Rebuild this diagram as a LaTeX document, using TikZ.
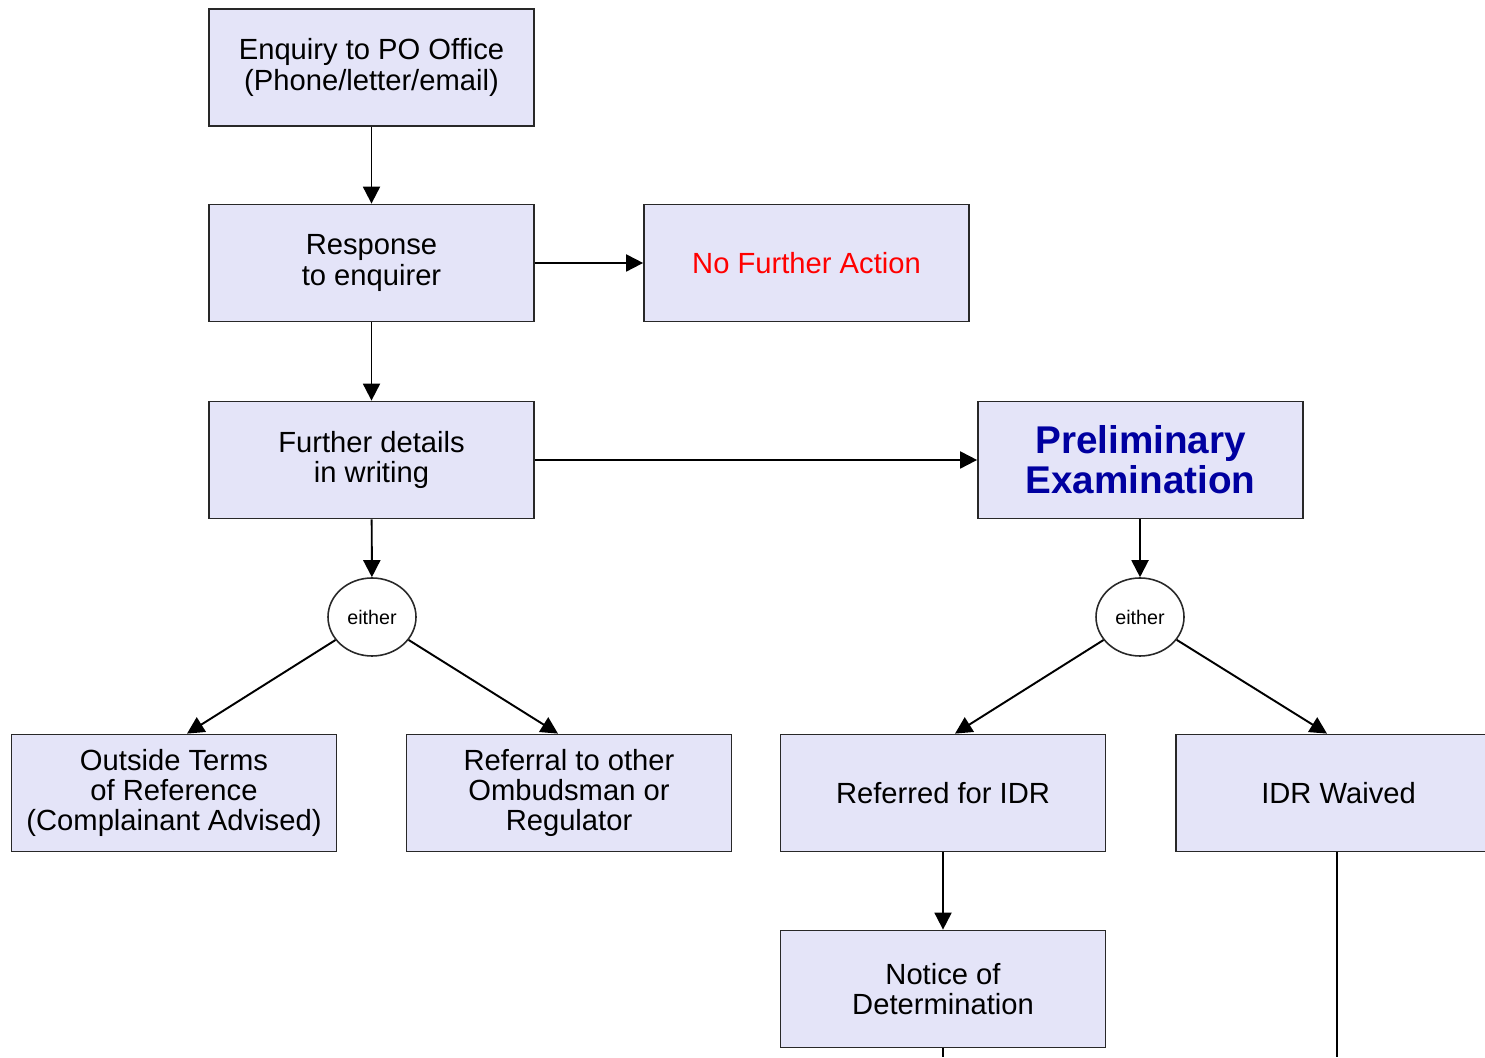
\documentclass[tikz,border=0pt]{standalone}
\usepackage{fontspec}
\setmainfont{Liberation Sans}
\usetikzlibrary{arrows.meta,shapes.geometric}
\definecolor{boxfill}{RGB}{228,228,248}
\definecolor{boxline}{RGB}{40,40,40}
\definecolor{prenavy}{RGB}{0,0,160}
\tikzset{
  flowbox/.style={draw=boxline,line width=0.5pt,fill=boxfill,minimum width=3.25cm,minimum height=1.17cm,
    align=center,inner sep=1pt,font=\fontsize{8.3}{8.6}\selectfont},
  eitherbox/.style={draw=boxline,ellipse,line width=0.45pt,minimum width=0.88cm,minimum height=0.78cm,
    inner sep=0pt,font=\fontsize{5.6}{6}\selectfont},
  flowline/.style={line width=0.55pt}
}
\begin{document}
\begin{tikzpicture}[>={Triangle[length=1.7mm,width=1.7mm]}]
                \useasboundingbox (0,0) rectangle (14.85,10.57);
                % top column
                \node[flowbox] (enq) at (3.715,9.895) {Enquiry to PO Office\\(Phone/letter/email)};
                \node[flowbox] (resp) at (3.715,7.94) {Response\\to enquirer};
                \node[flowbox] (nfa) at (8.065,7.94) {\color{red}No Further Action};
                \node[flowbox] (fur) at (3.715,5.97) {Further details\\in writing};
                \node[flowbox,font=\fontsize{11}{11.4}\selectfont\bfseries,text=prenavy] (pre) at (11.405,5.97) {Preliminary\\Examination};
                \node[eitherbox] (e1) at (3.72,4.40) {either};
                \node[eitherbox] (e2) at (11.40,4.40) {either};
                % outcomes
                \node[flowbox] (out) at (1.74,2.64) {Outside Terms\\of Reference\\(Complainant Advised)};
                \node[flowbox] (ref) at (5.69,2.64) {Referral to other\\Ombudsman or\\Regulator};
                \node[flowbox] (idr) at (9.43,2.64) {Referred for IDR};
                \node[flowbox] (wai) at (13.385,2.64) {IDR Waived};
                \node[flowbox] (notice) at (9.43,0.68) {Notice of\\Determination};
                \coordinate (notend) at (9.43,0);
                \coordinate (waiend) at (13.37,0);
                % connectors
                \draw[flowline,->] (enq) -- (resp);
                \draw[flowline,->] (resp) -- (nfa);
                \draw[flowline,->] (resp) -- (fur);
                \draw[flowline,->] (fur) -- (pre);
                \draw[flowline,->] (fur) -- (e1);
                \draw[flowline,->] (pre.south -| e2) -- (e2);
                \draw[flowline,->] (e1) -- ([xshift=1.3mm]out.north);
                \draw[flowline,->] (e1) -- ([xshift=-1.1mm]ref.north);
                \draw[flowline,->] (e2) -- ([xshift=1.2mm]idr.north);
                \draw[flowline,->] (e2) -- ([xshift=-1.15mm]wai.north);
                \draw[flowline,->] (idr) -- (notice);
                \draw[flowline] (notice) -- (notend);
                \draw[flowline] (wai.south -| waiend) -- (waiend);
\end{tikzpicture}
\end{document}
